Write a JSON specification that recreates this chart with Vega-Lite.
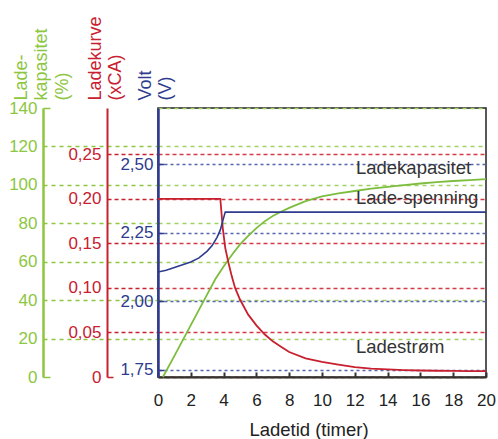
{
  "$schema": "https://vega.github.io/schema/vega-lite/v6.json",
  "width": 328,
  "height": 269,
  "autosize": {"type": "none"},
  "padding": {"left": 158, "top": 108, "right": 12, "bottom": 62},
  "config": {
    "font": "Liberation Sans",
    "view": {"stroke": "#222222", "strokeWidth": 1.5},
    "axis": {"labelFont": "Liberation Sans", "titleFont": "Liberation Sans", "labelFlush": false, "labelOverlap": false, "titleFontWeight": "normal"}
  },
  "datasets": {
    "kap": [
      {"t": 0.3, "pct": 0}, {"t": 1, "pct": 11}, {"t": 2, "pct": 27}, {"t": 3, "pct": 43}, {"t": 3.5, "pct": 51},
      {"t": 4, "pct": 57.5}, {"t": 4.5, "pct": 63.5}, {"t": 5, "pct": 69}, {"t": 5.5, "pct": 73.5}, {"t": 6, "pct": 77.5},
      {"t": 6.5, "pct": 81}, {"t": 7, "pct": 83.8}, {"t": 7.5, "pct": 86}, {"t": 8, "pct": 88}, {"t": 9, "pct": 91.5},
      {"t": 10, "pct": 94}, {"t": 11, "pct": 95.6}, {"t": 12, "pct": 96.8}, {"t": 13, "pct": 98}, {"t": 14, "pct": 99},
      {"t": 15, "pct": 99.9}, {"t": 16, "pct": 100.7}, {"t": 17, "pct": 101.4}, {"t": 18, "pct": 102}, {"t": 19, "pct": 102.5}, {"t": 20, "pct": 103}
    ],
    "strom": [
      {"t": 0, "c": 0.2}, {"t": 3.8, "c": 0.2}, {"t": 3.95, "c": 0.167}, {"t": 4.1, "c": 0.145}, {"t": 4.3, "c": 0.128},
      {"t": 4.5, "c": 0.113}, {"t": 4.7, "c": 0.1}, {"t": 5, "c": 0.087}, {"t": 5.5, "c": 0.07}, {"t": 6, "c": 0.058},
      {"t": 6.5, "c": 0.048}, {"t": 7, "c": 0.04}, {"t": 7.5, "c": 0.034}, {"t": 8, "c": 0.028}, {"t": 9, "c": 0.021},
      {"t": 10, "c": 0.017}, {"t": 11, "c": 0.014}, {"t": 12, "c": 0.011}, {"t": 13, "c": 0.0095}, {"t": 14, "c": 0.0085},
      {"t": 15, "c": 0.0078}, {"t": 16, "c": 0.0073}, {"t": 17, "c": 0.007}, {"t": 18, "c": 0.0068}, {"t": 19, "c": 0.0067}, {"t": 20, "c": 0.0066}
    ],
    "volt": [
      {"t": 0, "v": 2.107}, {"t": 0.5, "v": 2.113}, {"t": 1, "v": 2.123}, {"t": 1.5, "v": 2.133}, {"t": 2, "v": 2.143},
      {"t": 2.5, "v": 2.158}, {"t": 3, "v": 2.183}, {"t": 3.3, "v": 2.203}, {"t": 3.6, "v": 2.233}, {"t": 3.8, "v": 2.26},
      {"t": 3.95, "v": 2.293}, {"t": 4.1, "v": 2.325}, {"t": 20, "v": 2.325}
    ],
    "etiketter": [
      {"t": 12.07, "p": 109.0, "label": "Ladekapasitet"},
      {"t": 12.07, "p": 93.2, "label": "Lade-spenning"},
      {"t": 12.07, "p": 15.8, "label": "Ladestrøm"}
    ]
  },
  "encoding": {
    "x": {
      "field": "t", "type": "quantitative", "scale": {"domain": [0, 20]},
      "axis": {
        "title": "Ladetid (timer)", "values": [0, 2, 4, 6, 8, 10, 12, 14, 16, 18, 20], "tickCount": 11, "grid": false,
        "labelOverlap": false, "labelFlush": false, "labelBound": false,
        "domainColor": "#333333", "domainWidth": 2, "tickColor": "#333333", "tickWidth": 2, "tickSize": -5,
        "labelFontSize": 17, "labelColor": "#222222", "labelPadding": 20,
        "titleFontSize": 18.5, "titleColor": "#222222", "titleX": 150.5, "titleY": 43, "titleBaseline": "top"
      }
    }
  },
  "layer": [
    {
      "data": {"name": "kap"},
      "mark": {"type": "line", "color": "#7dbd3e", "strokeWidth": 1.8},
      "encoding": {
        "y": {
          "field": "pct", "type": "quantitative", "scale": {"domain": [0, 140]},
          "axis": {
            "orient": "left", "offset": 115, "values": [0, 20, 40, 60, 80, 100, 120, 140],
            "labelOverlap": false, "labelFlush": false,
            "title": ["Lade-", "kapasitet", "(%)"], "titleColor": "#8dc63f", "titleFontSize": 18, "titleLineHeight": 20.5,
            "titleAngle": -90, "titleAlign": "left", "titleBaseline": "top", "titleX": -31, "titleY": -8,
            "domainColor": "#8dc63f", "domainWidth": 2.5,
            "tickColor": "#8dc63f", "tickWidth": 1.5,
            "tickSize": {"condition": {"test": "datum.value == 0 || datum.value == 140", "value": -7}, "value": -115},
            "tickDash": {"condition": {"test": "datum.value == 0 || datum.value == 140", "value": [1, 0]}, "value": [4, 4]},
            "labelPadding": {"condition": {"test": "datum.value == 0 || datum.value == 140", "value": 13}, "value": 121},
            "grid": true, "gridColor": "#9fd160", "gridDash": [4, 4], "gridWidth": 1.5,
            "labelColor": "#8dc63f", "labelFontSize": 17
          }
        }
      }
    },
    {
      "data": {"name": "strom"},
      "mark": {"type": "line", "color": "#c8202f", "strokeWidth": 1.8},
      "encoding": {
        "y": {
          "field": "c", "type": "quantitative", "scale": {"domain": [0, 0.302]},
          "axis": {
            "orient": "left", "offset": 51, "values": [0, 0.05, 0.1, 0.15, 0.2, 0.25],
            "labelOverlap": false, "labelFlush": false,
            "labelExpr": "datum.value == 0 ? '0' : replace(format(datum.value, '.2f'), '.', ',')",
            "title": ["Ladekurve", "(xCA)"], "titleColor": "#c8202f", "titleFontSize": 18, "titleLineHeight": 20.5,
            "titleAngle": -90, "titleAlign": "left", "titleBaseline": "top", "titleX": -21, "titleY": -8,
            "domainColor": "#c8202f", "domainWidth": 2,
            "tickColor": "#c8202f", "tickWidth": 1.5,
            "tickSize": {"condition": {"test": "datum.value == 0", "value": -6}, "value": -51},
            "tickDash": {"condition": {"test": "datum.value == 0", "value": [1, 0]}, "value": [4, 3]},
            "labelPadding": {"condition": {"test": "datum.value == 0", "value": 12}, "value": 57},
            "grid": true, "gridColor": "#d63a47", "gridDash": [4, 3], "gridWidth": 1.3,
            "labelColor": "#c8202f", "labelFontSize": 17
          }
        }
      }
    },
    {
      "data": {"name": "volt"},
      "mark": {"type": "line", "color": "#2e3b8e", "strokeWidth": 1.6},
      "encoding": {
        "y": {
          "field": "v", "type": "quantitative", "scale": {"domain": [1.7245, 2.704]},
          "axis": {
            "orient": "left", "offset": 0, "values": [1.75, 2, 2.25, 2.5],
            "labelOverlap": false, "labelFlush": false,
            "labelExpr": "replace(format(datum.value, '.2f'), '.', ',')",
            "title": ["Volt", "(V)"], "titleColor": "#2e3b8e", "titleFontSize": 18, "titleLineHeight": 20.5,
            "titleAngle": -90, "titleAlign": "left", "titleBaseline": "top", "titleX": -22, "titleY": -8,
            "domainColor": "#2e3b8e", "domainWidth": 2.5,
            "tickColor": "#2e3b8e", "tickWidth": 1.5, "tickSize": -6,
            "grid": true, "gridColor": "#5866b0", "gridDash": [3, 3], "gridWidth": 1.3,
            "labelColor": "#2e3b8e", "labelFontSize": 17, "labelPadding": 11
          }
        }
      }
    },
    {
      "data": {"name": "etiketter"},
      "mark": {"type": "text", "align": "left", "baseline": "middle", "fontSize": 18.5, "color": "#333333", "font": "Liberation Sans"},
      "encoding": {
        "y": {"field": "p", "type": "quantitative", "scale": {"domain": [0, 140]}, "axis": null},
        "text": {"field": "label"}
      }
    }
  ],
  "resolve": {"scale": {"y": "independent"}, "axis": {"y": "independent"}}
}
